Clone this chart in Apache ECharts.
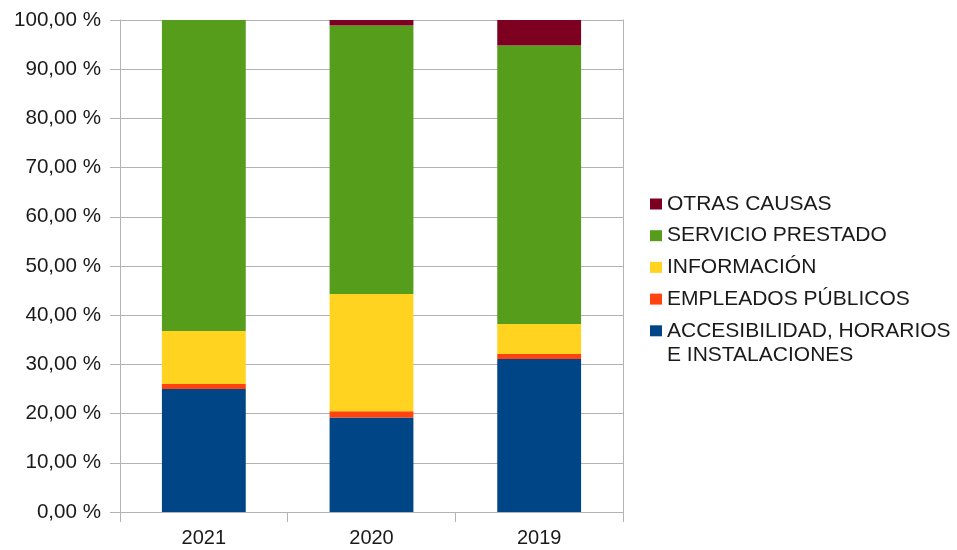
<!DOCTYPE html>
<html>
<head>
<meta charset="utf-8">
<script src="https://cdn.jsdelivr.net/npm/echarts@6/dist/echarts.min.js"></script>
<style>
html,body{margin:0;padding:0;background:#fff;}
#chart{width:957px;height:550px;}
</style>
</head>
<body>
<div id="chart"></div>
<script>
const categories = ['2021', '2020', '2019'];
const accesibilidad = [25.0, 19.2, 31.1];
const empleados = [1.0, 1.3, 1.0];
const informacion = [10.8, 23.8, 6.1];
const servicio = [63.2, 54.6, 56.6];
const otras = [0.0, 1.1, 5.2];
const yTicks = [0, 10, 20, 30, 40, 50, 60, 70, 80, 90, 100];

const names = ['ACCESIBILIDAD, HORARIOS E INSTALACIONES', 'EMPLEADOS PÚBLICOS', 'INFORMACIÓN', 'SERVICIO PRESTADO', 'OTRAS CAUSAS'];
const values = [accesibilidad, empleados, informacion, servicio, otras];
const colors = ['#004586', '#ff420e', '#ffd320', '#579d1c', '#7e0021'];

const FONT = 'Liberation Sans';
const TXT = '#1a1a1a';
const GRID = '#b3b3b3';

const chart = echarts.init(document.getElementById('chart'), null, {renderer: 'canvas'});
chart.setOption({
  animation: false,
  backgroundColor: '#ffffff',
  grid: {left: 120, right: 334, top: 20, bottom: 38, containLabel: false},
  legend: {
    orient: 'vertical',
    left: 650,
    top: 191,
    padding: 0,
    itemWidth: 12,
    itemHeight: 11,
    itemGap: 5.7,
    selectedMode: false,
    icon: 'rect',
    data: ['OTRAS CAUSAS', 'SERVICIO PRESTADO', 'INFORMACIÓN', 'EMPLEADOS PÚBLICOS', 'ACCESIBILIDAD, HORARIOS E INSTALACIONES'],
    formatter: function (n) { return n === 'ACCESIBILIDAD, HORARIOS E INSTALACIONES' ? 'ACCESIBILIDAD, HORARIOS' : n; },
    textStyle: {fontFamily: FONT, fontSize: 21, color: TXT, lineHeight: 26}
  },
  graphic: [{
    type: 'text',
    x: 667,
    y: 355,
    silent: true,
    style: {text: 'E INSTALACIONES', fontFamily: FONT, fontSize: 21, fill: TXT, verticalAlign: 'middle', align: 'left'}
  }],
  xAxis: {
    type: 'category',
    data: categories,
    boundaryGap: true,
    axisLine: {show: true, lineStyle: {color: GRID, width: 1}},
    axisTick: {show: true, length: 10, lineStyle: {color: GRID}},
    axisLabel: {fontFamily: FONT, fontSize: 20, color: TXT, margin: 16},
    splitLine: {show: false}
  },
  yAxis: [{
    type: 'value',
    min: 0, max: 100, interval: 10,
    axisLine: {show: true, lineStyle: {color: GRID, width: 1}},
    axisTick: {show: true, length: 10, lineStyle: {color: GRID}},
    axisLabel: {
      fontFamily: FONT, fontSize: 20.6, color: TXT, margin: 19,
      formatter: function (v) { return yTicks.indexOf(v) >= 0 ? v.toFixed(2).replace('.', ',') + ' %' : ''; }
    },
    splitLine: {show: true, lineStyle: {color: GRID, width: 1}}
  }, {
    type: 'value',
    position: 'right',
    min: 0, max: 100, interval: 10,
    axisLine: {show: true, lineStyle: {color: GRID, width: 1}},
    axisTick: {show: false},
    axisLabel: {show: false},
    splitLine: {show: false}
  }],
  series: names.map(function (n, i) {
    return {
      name: n,
      type: 'bar',
      stack: 'total',
      barWidth: '50%',
      yAxisIndex: 0,
      itemStyle: {color: colors[i]},
      data: values[i]
    };
  })
});
</script>
</body>
</html>
